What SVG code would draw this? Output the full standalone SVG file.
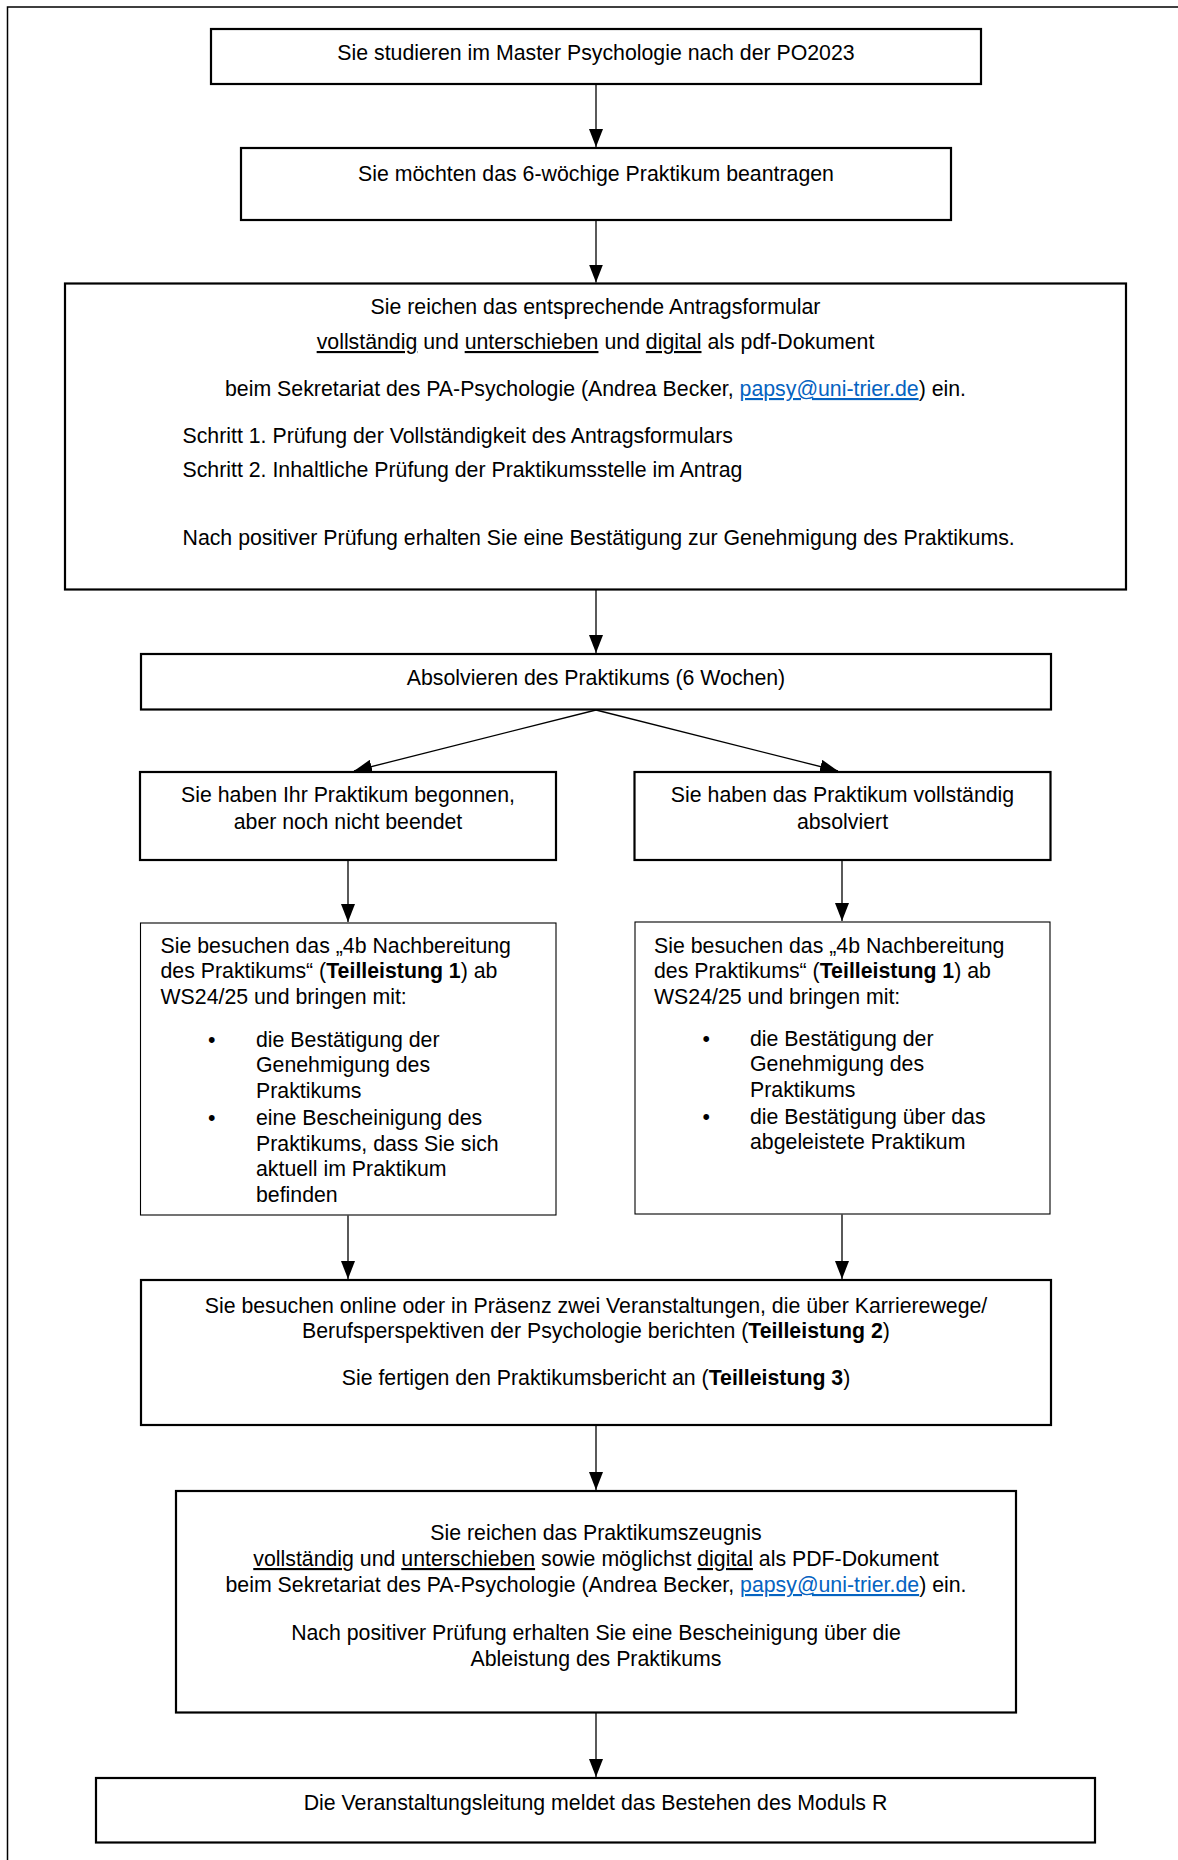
<svg xmlns="http://www.w3.org/2000/svg" width="1178" height="1860" viewBox="0 0 1178 1860">
<style>
text{font-family:"Liberation Sans",Arial,sans-serif;font-size:21.3px;fill:#000}
.c{text-anchor:middle}
.u{text-decoration:underline}
.b{font-weight:bold}
.lk{fill:#0563C1;text-decoration:underline}
.box{fill:#fff;stroke:#000;stroke-width:2.2}
.thin{fill:#fff;stroke:#000;stroke-width:1.1}
.conn line{stroke:#000;stroke-width:1.3}
</style>
<defs>
<marker id="ah" viewBox="0 0 18 14" refX="18" refY="7" markerWidth="18" markerHeight="14" markerUnits="userSpaceOnUse" orient="auto">
<path d="M0,0 L18,7 L0,14 Z" fill="#000"/>
</marker>
</defs>
<rect x="0" y="0" width="1178" height="1860" fill="#fff"/>
<rect id="frame" x="7.5" y="7" width="1200" height="1900" fill="none" stroke="#000" stroke-width="1.5"/>

<g id="connectors" class="conn">
<line x1="596" y1="85" x2="596" y2="147" marker-end="url(#ah)"/>
<line x1="596" y1="221" x2="596" y2="282.5" marker-end="url(#ah)"/>
<line x1="596" y1="590" x2="596" y2="653" marker-end="url(#ah)"/>
<line x1="596" y1="710" x2="354" y2="771" marker-end="url(#ah)"/>
<line x1="596" y1="710" x2="838" y2="771" marker-end="url(#ah)"/>
<line x1="348" y1="861" x2="348" y2="922" marker-end="url(#ah)"/>
<line x1="842" y1="861" x2="842" y2="921" marker-end="url(#ah)"/>
<line x1="348" y1="1215.5" x2="348" y2="1279" marker-end="url(#ah)"/>
<line x1="842" y1="1214.5" x2="842" y2="1279" marker-end="url(#ah)"/>
<line x1="596" y1="1426" x2="596" y2="1490" marker-end="url(#ah)"/>
<line x1="596" y1="1713" x2="596" y2="1777" marker-end="url(#ah)"/>
</g>

<g id="n1">
<rect class="box" x="211" y="29" width="770" height="55"/>
<text class="c" x="596" y="60">Sie studieren im Master Psychologie nach der PO2023</text>
</g>

<g id="n2">
<rect class="box" x="241" y="148" width="710" height="72"/>
<text class="c" x="596" y="181">Sie möchten das 6-wöchige Praktikum beantragen</text>
</g>

<g id="n3">
<rect class="box" x="65" y="283.5" width="1061" height="306"/>
<text class="c" x="595.5" y="314">Sie reichen das entsprechende Antragsformular</text>
<text class="c" x="595.5" y="349"><tspan class="u">vollständig</tspan> und <tspan class="u">unterschieben</tspan> und <tspan class="u">digital</tspan> als pdf-Dokument</text>
<text class="c" x="595.5" y="396">beim Sekretariat des PA-Psychologie (Andrea Becker, <tspan class="lk">papsy@uni-trier.de</tspan>) ein.</text>
<text x="182.5" y="443">Schritt 1. Prüfung der Vollständigkeit des Antragsformulars</text>
<text x="182.5" y="477">Schritt 2. Inhaltliche Prüfung der Praktikumsstelle im Antrag</text>
<text x="182.5" y="545">Nach positiver Prüfung erhalten Sie eine Bestätigung zur Genehmigung des Praktikums.</text>
</g>

<g id="n4">
<rect class="box" x="141" y="654" width="910" height="55.5"/>
<text class="c" x="596" y="684.5">Absolvieren des Praktikums (6 Wochen)</text>
</g>

<g id="n5a">
<rect class="box" x="140" y="772" width="416" height="88"/>
<text class="c" x="348" y="802">Sie haben Ihr Praktikum begonnen,</text>
<text class="c" x="348" y="829">aber noch nicht beendet</text>
</g>

<g id="n5b">
<rect class="box" x="634.5" y="772" width="416" height="88"/>
<text class="c" x="842.5" y="802">Sie haben das Praktikum vollständig</text>
<text class="c" x="842.5" y="829">absolviert</text>
</g>

<g id="n6a">
<rect class="thin" x="140.5" y="923" width="415.5" height="292"/>
<text x="160.5" y="953">Sie besuchen das „4b Nachbereitung</text>
<text x="160.5" y="978">des Praktikums“ (<tspan class="b">Teilleistung 1</tspan>) ab</text>
<text x="160.5" y="1004">WS24/25 und bringen mit:</text>
<text x="208" y="1047">•</text>
<text x="256" y="1047">die Bestätigung der</text>
<text x="256" y="1072">Genehmigung des</text>
<text x="256" y="1097.5">Praktikums</text>
<text x="208" y="1124.5">•</text>
<text x="256" y="1124.5">eine Bescheinigung des</text>
<text x="256" y="1150.5">Praktikums, dass Sie sich</text>
<text x="256" y="1176">aktuell im Praktikum</text>
<text x="256" y="1202">befinden</text>
</g>

<g id="n6b">
<rect class="thin" x="635" y="922" width="415" height="292"/>
<text x="654" y="952.5">Sie besuchen das „4b Nachbereitung</text>
<text x="654" y="978">des Praktikums“ (<tspan class="b">Teilleistung 1</tspan>) ab</text>
<text x="654" y="1004">WS24/25 und bringen mit:</text>
<text x="702.5" y="1046">•</text>
<text x="750" y="1046">die Bestätigung der</text>
<text x="750" y="1071">Genehmigung des</text>
<text x="750" y="1097">Praktikums</text>
<text x="702.5" y="1123.5">•</text>
<text x="750" y="1123.5">die Bestätigung über das</text>
<text x="750" y="1149">abgeleistete Praktikum</text>
</g>

<g id="n7">
<rect class="box" x="141" y="1280" width="910" height="145"/>
<text class="c" x="596" y="1312.5">Sie besuchen online oder in Präsenz zwei Veranstaltungen, die über Karrierewege/</text>
<text class="c" x="596" y="1337.5">Berufsperspektiven der Psychologie berichten (<tspan class="b">Teilleistung 2</tspan>)</text>
<text class="c" x="596" y="1385">Sie fertigen den Praktikumsbericht an (<tspan class="b">Teilleistung 3</tspan>)</text>
</g>

<g id="n8">
<rect class="box" x="176" y="1491" width="840" height="221.5"/>
<text class="c" x="596" y="1540">Sie reichen das Praktikumszeugnis</text>
<text class="c" x="596" y="1566"><tspan class="u">vollständig</tspan> und <tspan class="u">unterschieben</tspan> sowie möglichst <tspan class="u">digital</tspan> als PDF-Dokument</text>
<text class="c" x="596" y="1592">beim Sekretariat des PA-Psychologie (Andrea Becker, <tspan class="lk">papsy@uni-trier.de</tspan>) ein.</text>
<text class="c" x="596" y="1640">Nach positiver Prüfung erhalten Sie eine Bescheinigung über die</text>
<text class="c" x="596" y="1666">Ableistung des Praktikums</text>
</g>

<g id="n9">
<rect class="box" x="96" y="1778" width="999" height="64.5"/>
<text class="c" x="595.5" y="1810">Die Veranstaltungsleitung meldet das Bestehen des Moduls R</text>
</g>
</svg>
